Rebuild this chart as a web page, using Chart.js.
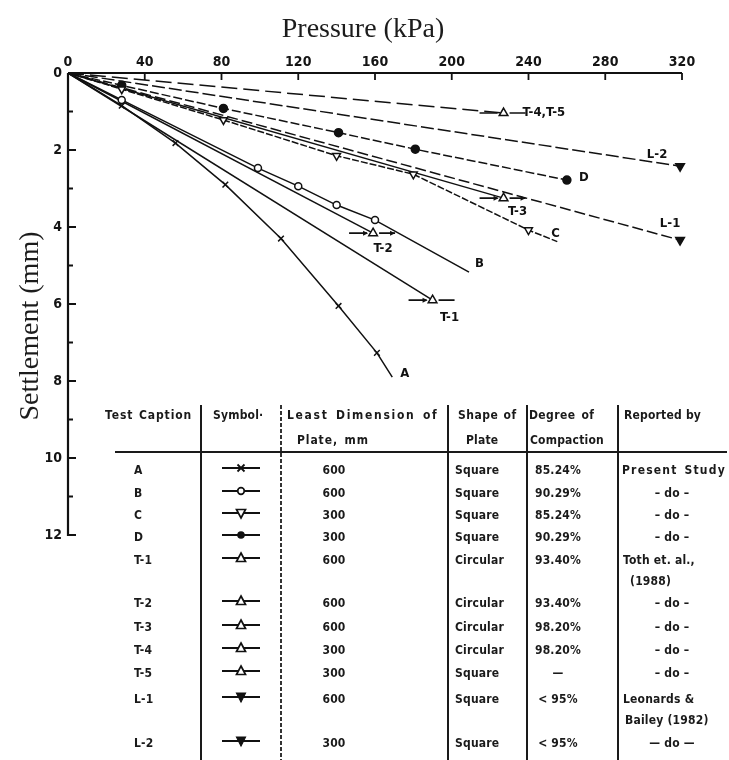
<!DOCTYPE html>
<html>
<head>
<meta charset="utf-8">
<script src="https://cdn.jsdelivr.net/npm/chart.js@4.4.1/dist/chart.umd.min.js"></script>
<style>
  html, body { margin: 0; padding: 0; background: #fff; }
  #wrap { position: relative; width: 729px; height: 760px; overflow: hidden; }
  #chart { position: absolute; left: 0; top: 0; }
  .tc { position: absolute; font-family: 'DejaVu Sans Condensed', 'DejaVu Sans', sans-serif;
        font-size: 12px; font-weight: bold; letter-spacing: 0.2px; color: #1a1a1a; white-space: nowrap;
        line-height: 16px; transform: translateY(-50%); }
  .ctr { transform: translate(-50%, -50%); }
  .vl { position: absolute; background: #1a1a1a; }
  .hl { position: absolute; background: #1a1a1a; height: 2px; }
  .sym { position: absolute; transform: translate(-50%, -50%); }
</style>
</head>
<body>
<div id="wrap">
  <canvas id="chart" width="729" height="760"></canvas>
  <div id="table"></div>
</div>
<script>
// ---- settlement curves: applied pressure (kPa) vs. settlement (mm) ----
const pressureA   = [0, 28, 56, 82, 111, 141, 161, 169];
const settlementA = [0, 0.85, 1.82, 2.9, 4.3, 6.05, 7.27, 7.9];
const pressureB   = [0, 28, 99, 120, 140, 160, 209];
const settlementB = [0, 0.7, 2.47, 2.94, 3.43, 3.82, 5.17];
const pressureC   = [0, 28, 81, 140, 180, 240, 255];
const settlementC = [0, 0.42, 1.22, 2.15, 2.63, 4.08, 4.38];
const pressureD   = [0, 28, 81, 141, 181, 260];
const settlementD = [0, 0.32, 0.92, 1.55, 1.98, 2.78];
const pressureT1   = [0, 190];
const settlementT1 = [0, 5.9];
const pressureT2   = [0, 159];
const settlementT2 = [0, 4.16];
const pressureT3   = [0, 227];
const settlementT3 = [0, 3.25];
const pressureT45   = [0, 227];
const settlementT45 = [0, 1.04];
const pressureL1   = [0, 319];
const settlementL1 = [0, 4.34];
const pressureL2   = [0, 319];
const settlementL2 = [0, 2.42];

// curves whose last point is only the end of the drawn line (no reading marker)
const openEndCurves = ['A', 'B', 'C'];

// ---- axis tick values ----
const pressureTicks = [0, 40, 80, 120, 160, 200, 240, 280, 320];
const settlementTicks = [0, 2, 4, 6, 8, 10, 12];

// ---- legend table ----
const captions     = ['A', 'B', 'C', 'D', 'T-1', 'T-2', 'T-3', 'T-4', 'T-5', 'L-1', 'L-2'];
const plateSizes   = ['600', '600', '300', '300', '600', '600', '600', '300', '300', '600', '300'];
const plateShapes  = ['Square', 'Square', 'Square', 'Square', 'Circular', 'Circular', 'Circular', 'Circular', 'Square', 'Square', 'Square'];
const compactions  = ['85.24%', '90.29%', '85.24%', '90.29%', '93.40%', '93.40%', '98.20%', '98.20%', '—', '< 95%', '< 95%'];
const reporters    = [['Present Study'], ['– do –'], ['– do –'], ['– do –'], ['Toth et. al.,', '(1988)'],
                      ['– do –'], ['– do –'], ['– do –'], ['– do –'], ['Leonards &', 'Bailey (1982)'], ['— do —']];
const symbolKinds  = ['cross', 'circleOpen', 'downOpen', 'circleFilled', 'upOpen', 'upOpen', 'upOpen', 'upOpen', 'upOpen', 'downFilled', 'downFilled'];

// ---- styling per curve ----
const curveStyle = {
  'A':       { p: pressureA,   s: settlementA,   marker: 'cross',        dash: [] },
  'B':       { p: pressureB,   s: settlementB,   marker: 'circleOpen',   dash: [] },
  'C':       { p: pressureC,   s: settlementC,   marker: 'downOpen',     dash: [7, 2] },
  'D':       { p: pressureD,   s: settlementD,   marker: 'circleFilled', dash: [9, 3] },
  'T-1':     { p: pressureT1,  s: settlementT1,  marker: 'upOpen',       dash: [] },
  'T-2':     { p: pressureT2,  s: settlementT2,  marker: 'upOpen',       dash: [] },
  'T-3':     { p: pressureT3,  s: settlementT3,  marker: 'upOpen',       dash: [] },
  'T-4,T-5': { p: pressureT45, s: settlementT45, marker: 'upOpen',       dash: [16, 6] },
  'L-1':     { p: pressureL1,  s: settlementL1,  marker: 'downFilled',   dash: [11, 4] },
  'L-2':     { p: pressureL2,  s: settlementL2,  marker: 'downFilled',   dash: [13, 4] }
};

const markerDef = {
  cross:        { pointStyle: 'crossRot', radius: 4,   fill: '#111', rot: 0 },
  circleOpen:   { pointStyle: 'circle',   radius: 3.5, fill: '#fff', rot: 0 },
  circleFilled: { pointStyle: 'circle',   radius: 4,   fill: '#111', rot: 0 },
  upOpen:       { pointStyle: 'triangle', radius: 5,   fill: '#fff', rot: 0 },
  downOpen:     { pointStyle: 'triangle', radius: 4.5, fill: '#fff', rot: 180 },
  downFilled:   { pointStyle: 'triangle', radius: 5,   fill: '#111', rot: 180 }
};

// curve label placement relative to the curve's last point (px), and end decoration
const labelPlace = {
  'A':       { dx: 8,   dy: -4,  align: 'left' },
  'B':       { dx: 6,   dy: -8,  align: 'left' },
  'C':       { dx: -6,  dy: -8,  align: 'left' },
  'D':       { dx: 12,  dy: -2,  align: 'left' },
  'T-1':     { dx: 17,  dy: 17,  align: 'center', deco: 'arrowDash' },
  'T-2':     { dx: 10,  dy: 15,  align: 'center', deco: 'arrowArrow' },
  'T-3':     { dx: 14,  dy: 13,  align: 'center', deco: 'arrowArrow' },
  'T-4,T-5': { dx: 19,  dy: 0,   align: 'left',   deco: 'dashDash' },
  'L-1':     { dx: -10, dy: -16, align: 'center' },
  'L-2':     { dx: -23, dy: -12, align: 'center' }
};

const INK = '#111';
const names = Object.keys(curveStyle);

const datasets = names.map(name => {
  const c = curveStyle[name];
  const m = markerDef[c.marker];
  const n = c.p.length;
  const marked = i => i > 0 && !(openEndCurves.includes(name) && i === n - 1);
  return {
    label: name,
    data: c.p.map((v, i) => ({ x: v, y: c.s[i] })),
    borderColor: INK,
    borderWidth: 1.5,
    borderDash: c.dash,
    tension: 0,
    pointStyle: m.pointStyle,
    pointRotation: m.rot,
    pointRadius: ctx => marked(ctx.dataIndex) ? m.radius : 0,
    pointBorderWidth: 1.5,
    pointBorderColor: INK,
    pointBackgroundColor: m.fill,
    clip: false
  };
});

const tickFont = { family: "'DejaVu Sans Condensed', 'DejaVu Sans', sans-serif", size: 14, weight: 'bold' };

function arrowHead(ctx, x, y) {
  ctx.beginPath();
  ctx.moveTo(x, y);
  ctx.lineTo(x - 5, y - 2.5);
  ctx.lineTo(x - 5, y + 2.5);
  ctx.closePath();
  ctx.fill();
}

const figurePlugin = {
  id: 'figure',
  afterDraw(chart) {
    const { ctx, chartArea: ca, scales: { x, y } } = chart;
    ctx.save();
    ctx.strokeStyle = INK;
    ctx.fillStyle = INK;
    ctx.setLineDash([]);

    // axis lines
    ctx.lineWidth = 2.2;
    ctx.beginPath();
    ctx.moveTo(ca.left, ca.top); ctx.lineTo(ca.right, ca.top);
    ctx.moveTo(ca.left, ca.top); ctx.lineTo(ca.left, ca.bottom + 1);
    ctx.stroke();

    // inward tick marks
    ctx.lineWidth = 1.8;
    ctx.beginPath();
    pressureTicks.forEach(v => {
      if (v === 0) return;
      const px = x.getPixelForValue(v);
      ctx.moveTo(px, ca.top); ctx.lineTo(px, ca.top + 7);
    });
    for (let v = 1; v <= 12; v++) {
      const py = y.getPixelForValue(v);
      ctx.moveTo(ca.left, py); ctx.lineTo(ca.left + (v % 2 === 0 ? 8 : 5), py);
    }
    ctx.stroke();

    // axis titles
    ctx.fillStyle = '#1c1c1c';
    ctx.font = "28px 'Liberation Serif', 'DejaVu Serif', serif";
    ctx.textAlign = 'center';
    ctx.textBaseline = 'middle';
    ctx.fillText('Pressure (kPa)', (ca.left + ca.right) / 2 - 12, 30);
    ctx.save();
    ctx.translate(31, (ca.top + ca.bottom) / 2 + 22);
    ctx.rotate(-Math.PI / 2);
    ctx.fillText('Settlement (mm)', 0, 0);
    ctx.restore();

    // curve labels and end decorations
    ctx.fillStyle = INK;
    ctx.font = "bold 13px 'DejaVu Sans Condensed', 'DejaVu Sans', sans-serif";
    ctx.textBaseline = 'middle';
    ctx.lineWidth = 1.6;
    names.forEach(name => {
      const c = curveStyle[name];
      const n = c.p.length;
      const px = x.getPixelForValue(c.p[n - 1]);
      const py = y.getPixelForValue(c.s[n - 1]);
      const lp = labelPlace[name];
      if (lp.deco) {
        ctx.beginPath();
        ctx.moveTo(px - 24, py); ctx.lineTo(px - 6, py);
        ctx.moveTo(px + 6, py); ctx.lineTo(px + 22, py);
        ctx.stroke();
        if (lp.deco === 'arrowDash' || lp.deco === 'arrowArrow') arrowHead(ctx, px - 5, py);
        if (lp.deco === 'arrowArrow') arrowHead(ctx, px + 22, py);
      }
      ctx.textAlign = lp.align;
      ctx.fillText(name, px + lp.dx, py + lp.dy);
    });
    ctx.restore();
  }
};

new Chart(document.getElementById('chart'), {
  type: 'line',
  data: { datasets },
  options: {
    responsive: false,
    animation: false,
    layout: { padding: { left: 0, top: 0, right: 47, bottom: 225 } },
    plugins: { legend: { display: false }, tooltip: { enabled: false } },
    elements: { line: { fill: false } },
    scales: {
      x: {
        type: 'linear', position: 'top', min: 0, max: 320,
        afterBuildTicks: s => { s.ticks = pressureTicks.map(v => ({ value: v })); },
        afterFit: s => { s.height = 73; },
        ticks: { font: tickFont, color: '#141414', padding: 2, maxRotation: 0 },
        grid: { display: true, drawOnChartArea: false, drawTicks: false },
        border: { display: false }
      },
      y: {
        type: 'linear', reverse: true, min: 0, max: 12,
        afterBuildTicks: s => { s.ticks = settlementTicks.map(v => ({ value: v })); },
        afterFit: s => { s.width = 68; },
        ticks: { font: tickFont, color: '#141414', padding: 6 },
        grid: { display: true, drawOnChartArea: false, drawTicks: false },
        border: { display: false }
      }
    }
  },
  plugins: [figurePlugin]
});

// ---- legend table built as page text ----
const table = document.getElementById('table');
function cell(text, left, top, centered, spacing) {
  const d = document.createElement('div');
  d.className = 'tc' + (centered ? ' ctr' : '');
  d.style.left = left + 'px';
  d.style.top = top + 'px';
  if (spacing) { d.style.letterSpacing = spacing[0] + 'px'; d.style.wordSpacing = spacing[1] + 'px'; }
  d.textContent = text;
  table.appendChild(d);
}
function rule(cls, left, top, w, h, dashed) {
  const d = document.createElement('div');
  d.className = cls;
  Object.assign(d.style, { left: left + 'px', top: top + 'px', width: w + 'px', height: h + 'px' });
  if (dashed) d.style.background = 'repeating-linear-gradient(#333 0 4px, transparent 4px 6px)';
  table.appendChild(d);
}
function symbolSvg(kind) {
  const ns = 'http://www.w3.org/2000/svg';
  const svg = document.createElementNS(ns, 'svg');
  svg.setAttribute('width', 40); svg.setAttribute('height', 14);
  let inner = '<line x1="1" y1="7" x2="39" y2="7" stroke="#111" stroke-width="2"/>';
  if (kind === 'cross') inner += '<path d="M16.5 3.5 L23.5 10.5 M23.5 3.5 L16.5 10.5" stroke="#111" stroke-width="1.8"/>';
  if (kind === 'circleOpen') inner += '<circle cx="20" cy="7" r="3.3" fill="#fff" stroke="#111" stroke-width="1.7"/>';
  if (kind === 'circleFilled') inner += '<circle cx="20" cy="7" r="3.8" fill="#111"/>';
  if (kind === 'upOpen') inner += '<path d="M20 2 L24.5 10.5 L15.5 10.5 Z" fill="#fff" stroke="#111" stroke-width="1.7"/>';
  if (kind === 'downOpen') inner += '<path d="M20 12 L24.5 3.5 L15.5 3.5 Z" fill="#fff" stroke="#111" stroke-width="1.7"/>';
  if (kind === 'downFilled') inner += '<path d="M20 12 L24.5 3 L15.5 3 Z" fill="#111" stroke="#111" stroke-width="1.2"/>';
  svg.innerHTML = inner;
  return svg;
}

// frame lines
rule('vl', 200, 405, 2, 355);
rule('vl', 280, 405, 1.5, 355, true);
rule('vl', 447, 405, 2, 355);
rule('vl', 526, 405, 1.5, 355);
rule('vl', 617, 405, 1.5, 355);
rule('hl', 115, 451, 612, 2);

// header
cell('Test Caption', 105, 415, false, [0.9, 1]);
cell('Symbol·', 213, 415);
cell('Least Dimension of', 287, 415, false, [1.7, 2]);
cell('Plate, mm', 297, 440, false, [0.9, 2]);
cell('Shape of', 458, 415, false, [0.5, 1]);
cell('Plate', 466, 440);
cell('Degree of', 529, 415, false, [0.4, 2]);
cell('Compaction', 530, 440);
cell('Reported by', 624, 415);

// body rows
const rowY = [470, 493, 515, 537, 560, 603, 627, 650, 673, 699, 743];
captions.forEach((cap, i) => {
  const yy = rowY[i];
  cell(cap, 134, yy);
  const s = document.createElement('div');
  s.className = 'sym';
  s.style.left = '241px'; s.style.top = yy + 'px';
  s.appendChild(symbolSvg(symbolKinds[i]));
  table.appendChild(s);
  cell(plateSizes[i], 334, yy, true);
  cell(plateShapes[i], 455, yy);
  cell(compactions[i], 558, yy, true);
  reporters[i].forEach((t, k) => {
    if (t.includes('do')) cell(t, 672, yy + k * 21, true);
    else if (t === 'Present Study') cell(t, 622, yy, false, [1.2, 2]);
    else cell(t, k === 0 ? 623 : (i === 4 ? 630 : 625), yy + k * 21);
  });
});
</script>
</body>
</html>
